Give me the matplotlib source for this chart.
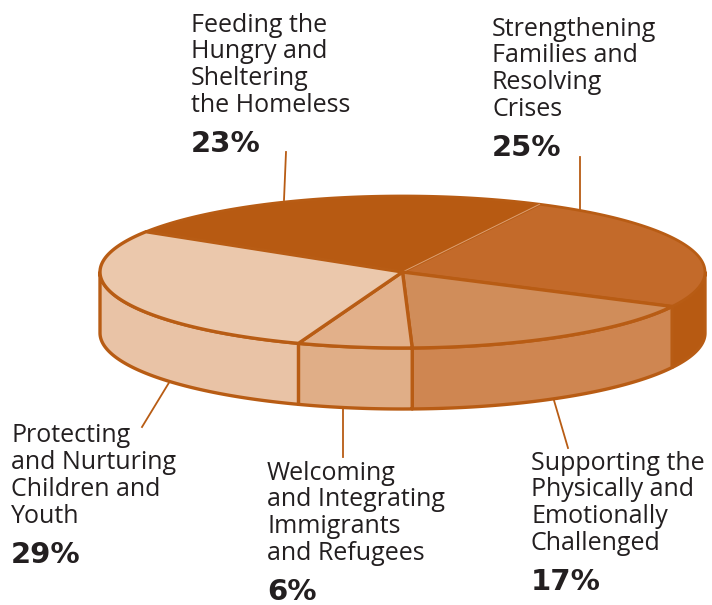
import numpy as np
import matplotlib
matplotlib.use("Agg")
import matplotlib.pyplot as plt

# data, clockwise from the top-left edge of the "Feeding" slice
categories = [
    "Feeding the\nHungry and\nSheltering\nthe Homeless",
    "Strengthening\nFamilies and\nResolving\nCrises",
    "Supporting the\nPhysically and\nEmotionally\nChallenged",
    "Welcoming\nand Integrating\nImmigrants\nand Refugees",
    "Protecting\nand Nurturing\nChildren and\nYouth",
]
shares = [23.6, 25, 17, 6.1, 28.3]
pct_labels = ["23%", "25%", "17%", "6%", "29%"]

top_colors = ["#b75a12", "#c36a2a", "#d08d5a", "#e2b08a", "#ebc8ac"]
side_colors = ["#b75a12", "#b75a12", "#cf8651", "#e0ae87", "#e9c3a6"]
EDGE = "#b85c14"
TEXT = "#231f20"

CX, CY = 402.5, 272
RX, RY = 302.5, 76
DEPTH = 61
START = 148.0


def rim(a0, a1, n=80):
    t = np.radians(np.linspace(a0, a1, n))
    return CX + RX * np.cos(t), CY - RY * np.sin(t)


fig = plt.figure(figsize=(7.12, 6.05), dpi=100)
ax = fig.add_axes([0, 0, 1, 1])
ax.set_xlim(0, 712)
ax.set_ylim(605, 0)
ax.axis("off")

edges = START - np.cumsum([0] + shares) * 3.6

# side walls, only the part of each slice on the front half
for i in range(len(shares)):
    hi, lo = min(edges[i], 0), max(edges[i + 1], -180)
    if hi <= lo:
        continue
    x, y = rim(hi, lo)
    ax.fill(np.r_[x, x[::-1]], np.r_[y, y[::-1] + DEPTH],
            fc=side_colors[i], ec=EDGE, lw=2.4, joinstyle="round", zorder=2)

# top faces
for i in range(len(shares)):
    x, y = rim(edges[i], edges[i + 1])
    dark = i < 2
    ax.fill(np.r_[CX, x], np.r_[CY, y], fc=top_colors[i], ec=EDGE,
            lw=2 if dark else 2.4, joinstyle="round", zorder=3 if dark else 4)

# pale hairline between the two dark slices
x, y = rim(edges[1], edges[1], 1)
ax.plot([CX, x[0]], [CY, y[0]], color="#dc9f72", lw=0.7, zorder=3.5)

# leader lines
leaders = [((286, 152), (284, 200)), ((580, 157), (580, 210)),
           ((568, 448), (553, 397)), ((343, 406), (343, 457)),
           ((170, 381), (142, 427))]
for (x0, y0), (x1, y1) in leaders:
    ax.plot([x0, x1], [y0, y1], color=EDGE, lw=1.3, zorder=1)

# labels
label_pos = [(191, 12.5), (492, 16.5), (531, 450.5), (267, 460.5), (11, 423.5)]
pct_pos = [(191, 144.5), (492, 148.5), (531, 582), (267, 591.5), (11, 555)]
for name, pct, (lx, ly), (px, py) in zip(categories, pct_labels, label_pos, pct_pos):
    ax.text(lx, ly, name, family="Open Sans", fontsize=18, color=TEXT,
            ha="left", va="top", linespacing=1.1)
    ax.text(px, py, pct, family="DejaVu Sans", fontsize=21, weight="bold", color=TEXT,
            ha="left", va="center")

fig.savefig("out.png", dpi=100)
